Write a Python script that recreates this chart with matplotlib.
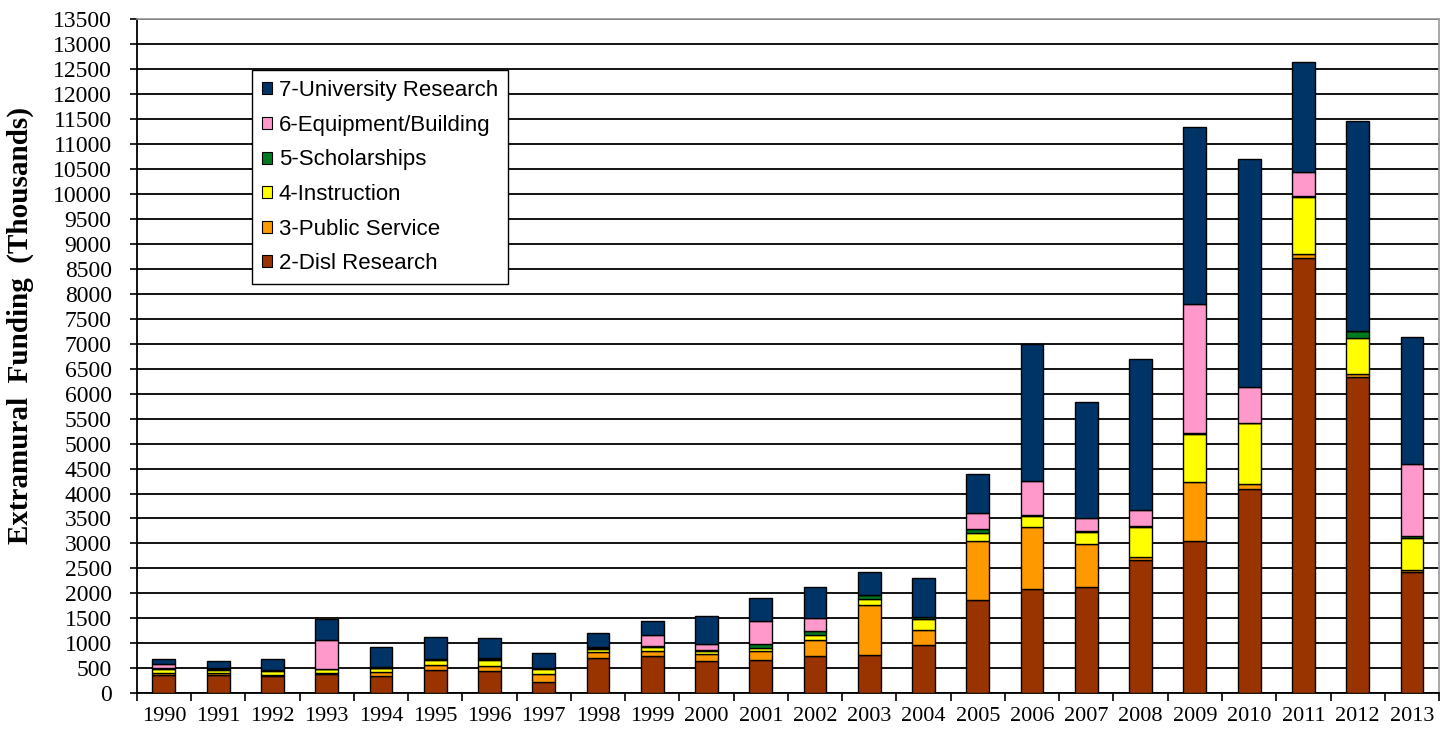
import numpy as np
import matplotlib
matplotlib.use("Agg")
import matplotlib.pyplot as plt
from matplotlib.patches import Patch

years = [str(y) for y in range(1990, 2014)]

# values in thousands
disl_research = [360, 370, 350, 390, 350, 470, 440, 230, 700, 740, 640, 670,
                 740, 760, 960, 1870, 2080, 2130, 2670, 3040, 4090, 8720, 6340, 2430]
public_service = [40, 30, 20, 20, 70, 90, 100, 160, 120, 100, 140, 180,
                  330, 1010, 300, 1170, 1250, 850, 50, 1200, 100, 80, 60, 30]
instruction = [80, 70, 80, 70, 80, 110, 130, 100, 70, 80, 60, 60,
               90, 120, 220, 170, 220, 250, 600, 960, 1220, 1140, 720, 650]
scholarships = [20, 20, 10, 10, 10, 10, 10, 20, 20, 30, 20, 80,
                90, 70, 40, 70, 10, 20, 30, 10, 10, 10, 130, 30]
equipment = [80, 10, 10, 580, 20, 10, 20, 0, 10, 220, 130, 450,
             250, 10, 10, 320, 690, 250, 320, 2590, 710, 490, 0, 1450]
univ_research = [110, 150, 210, 410, 390, 440, 400, 300, 290, 280, 560, 470,
                 620, 450, 770, 790, 2750, 2330, 3020, 3530, 4560, 2200, 4200, 2550]

series = [
    ("2-Disl Research", disl_research, "#993300"),
    ("3-Public Service", public_service, "#FF9900"),
    ("4-Instruction", instruction, "#FFFF00"),
    ("5-Scholarships", scholarships, "#007A1F"),
    ("6-Equipment/Building", equipment, "#FF99CC"),
    ("7-University Research", univ_research, "#003366"),
]

fig = plt.figure(figsize=(14.47, 7.32), dpi=100)
ax = fig.add_axes([0.0945, 0.0529, 0.9, 0.921])

x = np.arange(len(years))
bottom = np.zeros(len(years))
for name, vals, color in series:
    vals = np.array(vals, dtype=float)
    ax.bar(x, vals, 0.42, bottom=bottom, color=color, edgecolor="black",
           linewidth=1.0, zorder=3)
    bottom += vals

ax.set_xlim(-0.5, len(years) - 0.5)
ax.set_ylim(0, 13500)
ax.set_yticks(np.arange(0, 13501, 500))
ax.yaxis.grid(True, color="black", linewidth=1.3, zorder=0)
ax.set_axisbelow(True)

ax.set_xticks(x)
ax.set_xticklabels(years)
ax.set_xticks(np.arange(-0.5, len(years), 1), minor=True)
ax.tick_params(axis="x", which="major", length=0, pad=10)
ax.tick_params(axis="x", which="minor", length=6, width=1.2, direction="out")
ax.tick_params(axis="y", length=5, width=1.2, direction="out", pad=13)
for lab in ax.get_xticklabels():
    lab.set_fontfamily("Liberation Serif")
    lab.set_fontsize(16)
for lab in ax.get_yticklabels():
    lab.set_fontfamily("Liberation Serif")
    lab.set_fontsize(17)

for side in ["left", "bottom"]:
    ax.spines[side].set_linewidth(1.3)
for side in ["top", "right"]:
    ax.spines[side].set_color("#999999")
    ax.spines[side].set_linewidth(1.2)

ax.set_ylabel("Extramural  Funding  (Thousands)", fontfamily="Liberation Serif",
              fontweight="bold", fontsize=21)
ax.yaxis.set_label_coords(-0.079, 0.546)

handles = [Patch(facecolor=c, edgecolor="black", linewidth=0.8, label=n)
           for n, _, c in reversed(series)]
leg = ax.legend(handles=handles, loc="upper left", bbox_to_anchor=(0.0885, 0.924),
                borderaxespad=0, fancybox=False, framealpha=1, edgecolor="black",
                prop={"family": "Liberation Sans", "size": 16},
                handlelength=0.45, handleheight=0.45, handletextpad=0.3,
                labelspacing=0.61, borderpad=0.45)
leg.get_frame().set_linewidth(1.0)
leg.set_zorder(5)

plt.savefig("out.png", dpi=100)
plt.close()
